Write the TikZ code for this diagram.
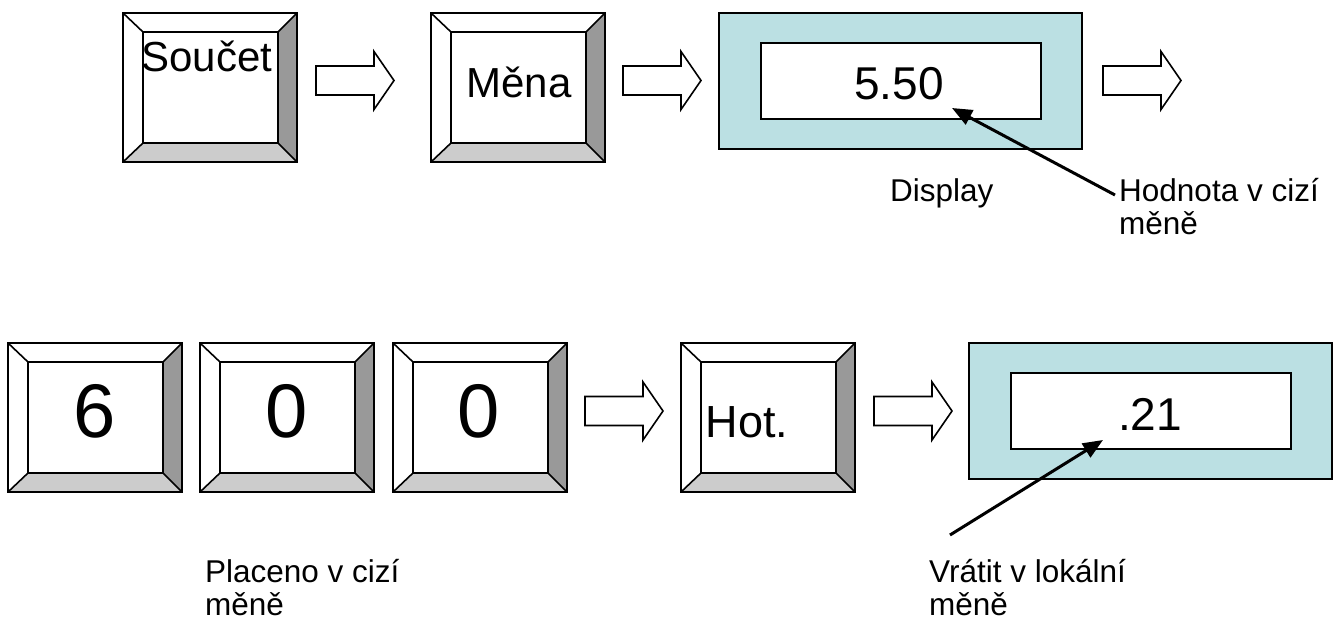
\documentclass[tikz,border=0pt]{standalone}
\usepackage{fontspec}
\setmainfont{Liberation Sans}
\usepackage{tikz}
\usetikzlibrary{arrows.meta}

\definecolor{displej}{RGB}{187,224,227}
\definecolor{hrana}{RGB}{153,153,153}
\definecolor{spodek}{RGB}{204,204,204}

\tikzset{
  obrys/.style={draw=black, line width=1.6pt, line join=miter},
  % key cap drawn from its top left corner
  klavesa/.pic={
    \fill[white] (0,0) rectangle (174,149);
    \fill[hrana] (174,0) -- (155,19) -- (155,130) -- (174,149) -- cycle;
    \fill[spodek] (0,149) -- (20,130) -- (155,130) -- (174,149) -- cycle;
    \draw[obrys] (0,0) rectangle (174,149);
    \draw[obrys] (20,19) rectangle (155,130);
    \draw[obrys] (0,0) -- (20,19) (174,0) -- (155,19)
                 (0,149) -- (20,130) (174,149) -- (155,130);
  },
  % display drawn from its top left corner
  displej/.pic={
    \draw[obrys, fill=displej] (0,0) rectangle (363,136);
    \draw[obrys, fill=white] (42,30) rectangle (322,106);
  },
  % hollow block arrow, from the middle of its tail
  sipka/.pic={
    \draw[obrys, fill=white] (0,-14.5) -- (58,-14.5) -- (58,-29) -- (78,0)
      -- (58,29) -- (58,14.5) -- (0,14.5) -- cycle;
  },
  klavtext/.style={anchor=base, inner sep=0pt, font=\fontsize{42}{46}\selectfont},
  cislice/.style={anchor=base, inner sep=0pt, font=\fontsize{76}{80}\selectfont},
  displtext/.style={anchor=base, inner sep=0pt, font=\fontsize{46}{50}\selectfont},
  popis/.style={anchor=base west, inner sep=0pt, align=left,
    font=\fontsize{31.5}{32.5}\selectfont},
  ukazatel/.style={line width=3pt, -{Triangle[length=20pt, width=16pt]}}
}

\begin{document}
\begin{tikzpicture}[x=1pt, y=-1pt]
    \useasboundingbox (0,0) rectangle (1342,621);

    % --- Top row: total, currency, display ---
    \pic at (123,13) {klavesa};
    \pic at (431,13) {klavesa};
    \pic at (316,80.5) {sipka};
    \pic at (623,80.5) {sipka};
    \pic at (719,13) {displej};
    \pic at (1103,80.5) {sipka};

    \node[klavtext] (soucet) at (207,71) {Součet};
    \node[klavtext] (mena) at (519,97) {Měna};
    \node[displtext] (hodnota1) at (899,99) {5.50};

    % two-line labels sit on their last line
    \node[popis] (display) at (890,201) {Display};
    \node[popis] (hodnota) at (1119,234) {Hodnota v cizí\\měně};

    \coordinate (pata1) at (1115,195);
    \coordinate (hrot1) at (952,108);
    \draw[ukazatel] (pata1) -- (hrot1);

    % --- Bottom row: paid amount, cash, change ---
    \foreach \x in {8,200,393,681}
        \pic at (\x,343) {klavesa};
    \pic at (585,411) {sipka};
    \pic at (874,411) {sipka};
    \pic at (969,343) {displej};

    \node[cislice] (sest) at (95,437) {6};
    \node[cislice] (nula1) at (287,437) {0};
    \node[cislice] (nula2) at (479,437) {0};
    \node[klavtext, font=\fontsize{45}{48}\selectfont] (hot) at (747,437) {Hot.};
    \node[displtext] (vratka) at (1150,430) {.21};

    \node[popis] (placeno) at (205,615) {Placeno v cizí\\měně};
    \node[popis] (vratit) at (929,615) {Vrátit v lokální\\měně};

    \coordinate (pata2) at (950,535);
    \coordinate (hrot2) at (1103,440);
    \draw[ukazatel] (pata2) -- (hrot2);
\end{tikzpicture}
\end{document}
